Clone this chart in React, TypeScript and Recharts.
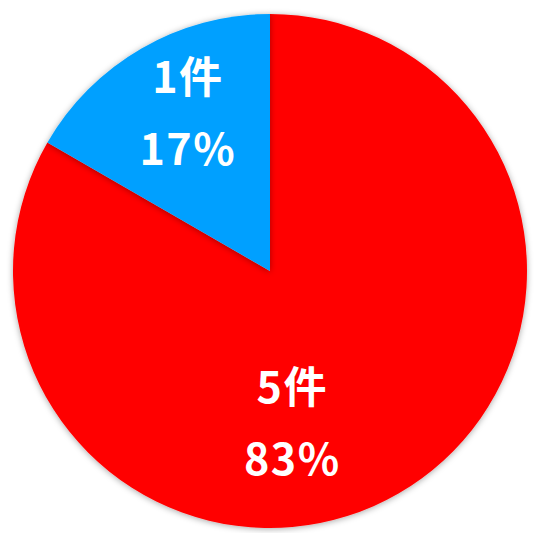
import { PieChart, Pie, Cell } from "recharts";

const categories = ["5件", "1件"];
const counts = [5, 1];
const colors = ["#FF0000", "#00A0FF"];

const data = categories.map((name, i) => ({ name, value: counts[i] }));

const RADIAN = Math.PI / 180;
// 文字ブロックの位置（中心角のずれと半径の割合）
const labelAngleShift = [-21.7, -2.4];
const labelRadiusRatio = [0.6, 0.69];

function renderLabel(props: any) {
  const { cx, cy, midAngle, outerRadius, percent, index, name } = props;
  const angle = (midAngle + labelAngleShift[index]) * RADIAN;
  const r = outerRadius * labelRadiusRatio[index];
  const x = cx + r * Math.cos(angle);
  const y = cy - r * Math.sin(angle);
  return (
    <text
      x={x}
      y={y}
      fill="#fff"
      textAnchor="middle"
      fontFamily="'Noto Sans CJK JP', sans-serif"
      fontWeight={600}
      fontSize={43}
      letterSpacing={1.5}
    >
      <tspan x={x} dy={-21}>{name}</tspan>
      <tspan x={x} dy={72}>{`${Math.round(percent * 100)}%`}</tspan>
    </text>
  );
}

export default function App() {
  return (
    <div style={{ position: "absolute", left: 0, top: 0, width: 535, height: 533, background: "#fff" }}>
      <PieChart width={535} height={533} margin={{ top: 0, right: 0, bottom: 0, left: 0 }}>
        <defs>
          <filter id="pie-shadow" x="-10%" y="-10%" width="120%" height="120%">
            <feDropShadow dx="0" dy="1" stdDeviation="3" floodColor="#000" floodOpacity="0.35" />
          </filter>
        </defs>
        <Pie
          data={data}
          dataKey="value"
          nameKey="name"
          cx={270}
          cy={271}
          outerRadius={257}
          startAngle={90}
          endAngle={-270}
          stroke="none"
          labelLine={false}
          label={renderLabel}
          isAnimationActive={false}
        >
          {data.map((d, i) => (
            <Cell key={d.name} fill={colors[i]} filter="url(#pie-shadow)" />
          ))}
        </Pie>
      </PieChart>
    </div>
  );
}
